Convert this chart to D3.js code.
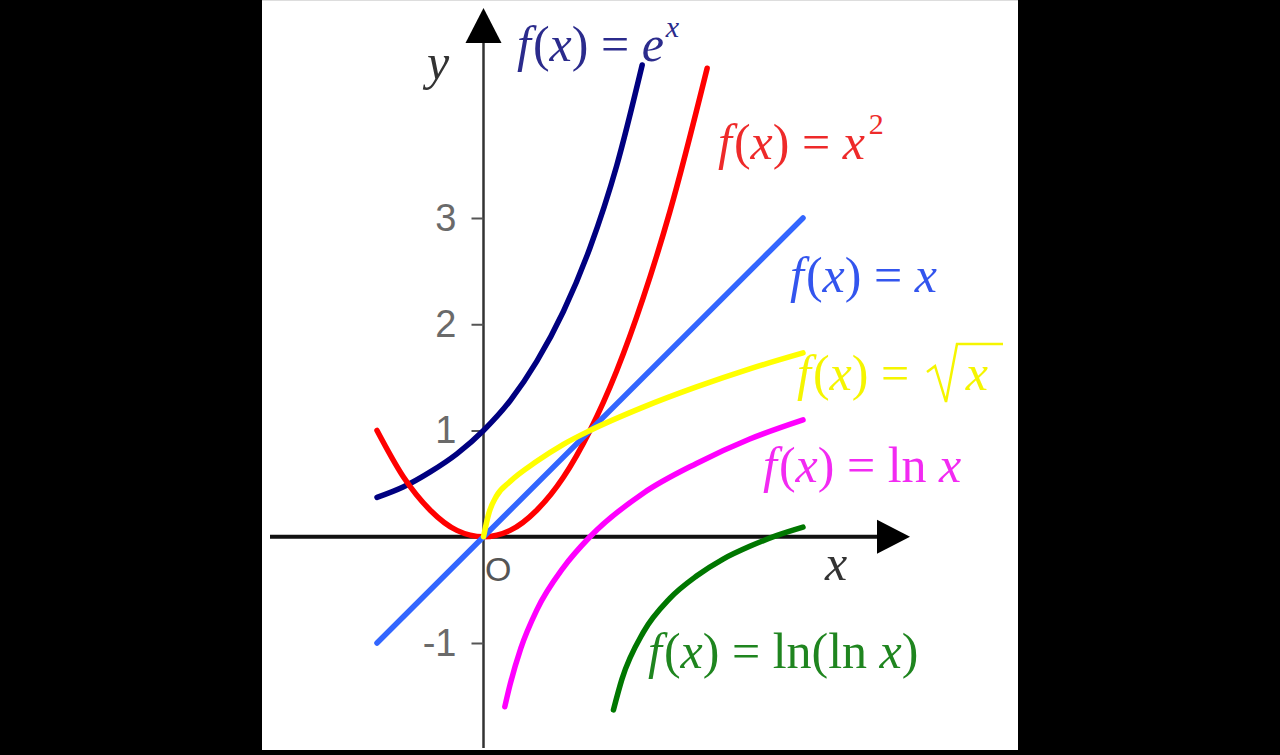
<!DOCTYPE html>
<html>
<head>
<meta charset="utf-8">
<script src="https://cdn.jsdelivr.net/npm/d3@7"></script>
<style>
  html, body { margin: 0; padding: 0; background: #000; }
  svg { display: block; }
</style>
</head>
<body>
<svg id="chart" width="1280" height="755"></svg>
<script>
// ---- data ----
const expX   = [-1, -0.75, -0.5, -0.25, 0, 0.25, 0.5, 0.75, 1, 1.25, 1.49];
const expY   = [0.37, 0.47, 0.61, 0.78, 1, 1.28, 1.65, 2.12, 2.72, 3.49, 4.44];
const sqX    = [-1, -0.75, -0.5, -0.25, 0, 0.25, 0.5, 0.75, 1, 1.25, 1.5, 1.75, 2.1];
const sqY    = [1, 0.56, 0.25, 0.06, 0, 0.06, 0.25, 0.56, 1, 1.56, 2.25, 3.06, 4.41];
const linX   = [-1, 3];
const linY   = [-1, 3];
const sqrtX  = [0, 0.05, 0.12, 0.25, 0.5, 0.75, 1, 1.5, 2, 2.5, 3];
const sqrtY  = [0, 0.22, 0.38, 0.52, 0.71, 0.87, 1, 1.22, 1.41, 1.58, 1.73];
const lnX    = [0.2, 0.25, 0.35, 0.5, 0.75, 1, 1.5, 2, 2.5, 3];
const lnY    = [-1.6, -1.39, -1.05, -0.69, -0.29, 0, 0.41, 0.69, 0.92, 1.1];
const lnlnX  = [1.22, 1.3, 1.5, 1.75, 2, 2.25, 2.5, 2.75, 3];
const lnlnY  = [-1.63, -1.34, -0.9, -0.58, -0.37, -0.21, -0.09, 0.01, 0.09];
const yTicks = [-1, 1, 2, 3];
const yTickLabels = ["-1", "1", "2", "3"];
const seriesNames = ["exp", "square", "identity", "sqrt", "ln", "lnln"];

const svg = d3.select("#chart");

// panel
svg.append("rect").attr("x", 262).attr("y", 0).attr("width", 756).attr("height", 750)
  .attr("fill", "#fff");
svg.append("line").attr("x1", 262).attr("x2", 1018).attr("y1", 0.5).attr("y2", 0.5)
  .attr("stroke", "#ddd").attr("stroke-width", 1);

const x = d3.scaleLinear().domain([-1, 3]).range([377, 803]);
const y = d3.scaleLinear().domain([-1, 3]).range([643, 218]);
const x0 = x(0), y0 = y(0);

// axes
svg.append("line").attr("x1", 270).attr("x2", 880).attr("y1", y0).attr("y2", y0)
  .attr("stroke", "#111").attr("stroke-width", 4);
svg.append("path").attr("d", `M877,${y0-17}L910,${y0}L877,${y0+17}Z`).attr("fill", "#000");
svg.append("line").attr("x1", x0).attr("x2", x0).attr("y1", 748).attr("y2", 40)
  .attr("stroke", "#333").attr("stroke-width", 2.5);
svg.append("path").attr("d", `M${x0-18},43L${x0},8L${x0+18},43Z`).attr("fill", "#000");

const yAxis = d3.axisLeft(y).tickValues(yTicks)
  .tickFormat((d, i) => yTickLabels[i]).tickSize(12).tickPadding(15);
const gy = svg.append("g").attr("transform", `translate(${x0},0)`).call(yAxis);
gy.select(".domain").remove();
gy.selectAll(".tick line").attr("stroke", "#555").attr("stroke-width", 2);
gy.selectAll(".tick text").attr("font-family", "Liberation Sans, Arial, sans-serif")
  .attr("font-size", 38).attr("fill", "#6a6a6a");

svg.append("text").attr("x", 485).attr("y", 581).text("O")
  .attr("font-family", "Liberation Sans, Arial, sans-serif").attr("font-size", 34).attr("fill", "#555");
svg.append("text").attr("x", 427).attr("y", 79).text("y")
  .attr("font-family", "Liberation Serif, serif").attr("font-style", "italic")
  .attr("font-size", 50).attr("fill", "#333");
svg.append("text").attr("x", 825).attr("y", 580).text("x")
  .attr("font-family", "Liberation Serif, serif").attr("font-style", "italic")
  .attr("font-size", 50).attr("fill", "#333");

// curves
const series = [
  {name: seriesNames[0], xs: expX,  ys: expY,  color: "#000080"},
  {name: seriesNames[1], xs: sqX,   ys: sqY,   color: "#ff0000"},
  {name: seriesNames[2], xs: linX,  ys: linY,  color: "#3366ff"},
  {name: seriesNames[3], xs: sqrtX, ys: sqrtY, color: "#ffff00"},
  {name: seriesNames[4], xs: lnX,   ys: lnY,   color: "#ff00ff"},
  {name: seriesNames[5], xs: lnlnX, ys: lnlnY, color: "#007700"}
];
const line = d3.line().x(d => x(d[0])).y(d => y(d[1])).curve(d3.curveMonotoneX);
svg.append("g").selectAll("path").data(series).join("path")
  .attr("d", s => line(s.xs.map((v, i) => [v, s.ys[i]])))
  .attr("fill", "none").attr("stroke", s => s.color)
  .attr("stroke-width", 5.5).attr("stroke-linecap", "round");

// labels
function label(px, py, color, parts) {
  const t = svg.append("text").attr("x", px).attr("y", py)
    .attr("font-family", "Liberation Serif, 'Times New Roman', serif")
    .attr("font-size", 50).attr("fill", color);
  parts.forEach(p => {
    const ts = t.append("tspan").text(p.t);
    if (p.i) ts.attr("font-style", "italic");
    if (p.dy) ts.attr("dy", p.dy);
    if (p.fs) ts.attr("font-size", p.fs);
    if (p.dx) ts.attr("dx", p.dx);
  });
  return t;
}
const F = [{t: "f", i: true}, {t: "(", dx: 2}, {t: "x", i: true}, {t: ")"}, {t: " = "}];

label(517, 61, "#2b2b8c", F.concat([{t: "e", i: true}, {t: "x", i: true, dy: -24, fs: 30, dx: 2}]));
label(718, 159, "#ee2a2a", F.concat([{t: "x", i: true}, {t: "2", dy: -25, fs: 30, dx: 4}]));
label(790, 292, "#3355ee", F.concat([{t: "x", i: true}]));
label(797, 390, "#f5f500", F.concat([{t: "x", i: true, dx: 44}]));
svg.append("path").attr("d", "M927,372L935,366L946,402L957,344L1003,344")
  .attr("fill", "none").attr("stroke", "#f5f500").attr("stroke-width", 2.5);
label(763, 482, "#f22af2", F.concat([{t: "ln "}, {t: "x", i: true}]));
label(648, 668, "#1f851f", F.concat([{t: "ln(ln "}, {t: "x", i: true}, {t: ")"}]));
</script>
</body>
</html>
